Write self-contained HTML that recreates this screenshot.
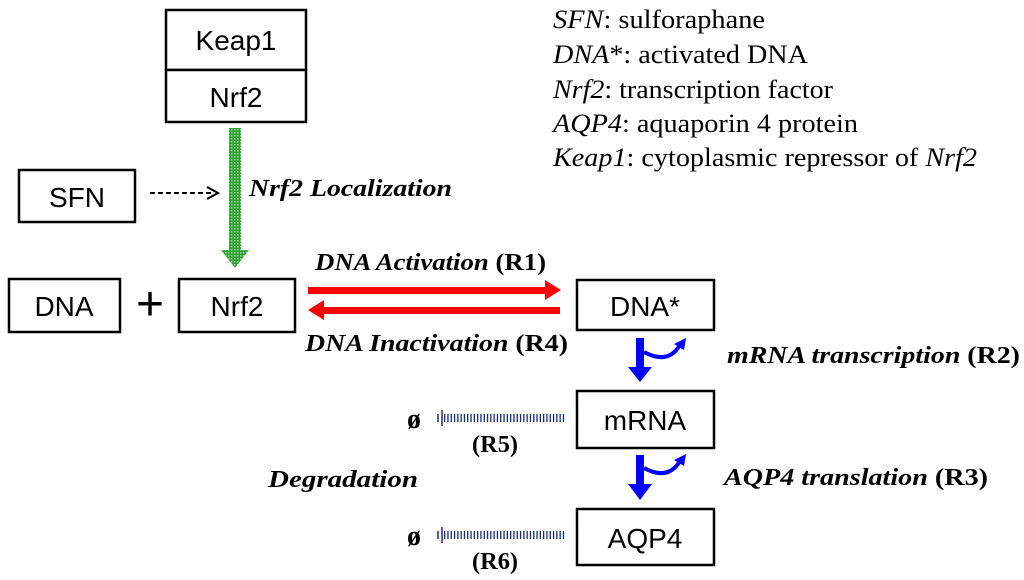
<!DOCTYPE html>
<html><head><style>body{margin:0;background:#fff}svg{display:block}</style></head>
<body>
<svg width="1024" height="580" xmlns="http://www.w3.org/2000/svg">
<defs>
<pattern id="g" width="3" height="3" patternUnits="userSpaceOnUse"><rect width="3" height="3" fill="#2fa02f"/><rect width="1.5" height="1.5" fill="#9fdc9f"/></pattern>
</defs>
<g fill="#fff" stroke="#000" stroke-width="2.5">
<rect x="166" y="10" width="140" height="60"/>
<rect x="166" y="70" width="140" height="52"/>
<rect x="19" y="170" width="116" height="52"/>
<rect x="9" y="279" width="111" height="53"/>
<rect x="179" y="279" width="116" height="53"/>
<rect x="577" y="280" width="137" height="50"/>
<rect x="577" y="391" width="137" height="57"/>
<rect x="577" y="509" width="137" height="56"/>
</g>
<g font-family="Liberation Sans, sans-serif" font-size="28" text-anchor="middle" fill="#000">
<text x="236" y="50">Keap1</text>
<text x="236" y="107">Nrf2</text>
<text x="77" y="207">SFN</text>
<text x="64" y="316">DNA</text>
<text x="237" y="316">Nrf2</text>
<text x="645" y="316">DNA*</text>
<text x="645" y="430">mRNA</text>
<text x="645" y="548">AQP4</text>
<text x="150" y="320" font-size="48">+</text>
</g>
<rect x="229" y="128" width="12" height="124" fill="url(#g)"/>
<polygon points="221,250 249,250 235,268" fill="url(#g)"/>
<line x1="150" y1="193" x2="214" y2="193" stroke="#000" stroke-width="2" stroke-dasharray="5,3"/>
<polyline points="207,187 218,193 207,199" fill="none" stroke="#000" stroke-width="2"/>
<rect x="308" y="287" width="240" height="7" fill="#f00"/>
<polygon points="545,280 561,290 545,300" fill="#f00"/>
<rect x="322" y="307" width="238" height="7" fill="#f00"/>
<polygon points="324,300 308,310 324,320" fill="#f00"/>
<g fill="#00f" stroke="none">
<rect x="636" y="338" width="8" height="32"/><polygon points="628,367 652,367 640,382"/>
<path d="M644 352 Q668 365 680 345" fill="none" stroke="#00f" stroke-width="4"/><polygon points="674,344 686,338 684,350"/>
<rect x="636" y="455" width="8" height="32"/><polygon points="628,484 652,484 640,500"/>
<path d="M644 468 Q668 481 680 461" fill="none" stroke="#00f" stroke-width="4"/><polygon points="674,460 686,454 684,466"/>
</g>
<g stroke="#1a2a7a" stroke-width="1.5">
<line x1="444" y1="418" x2="566" y2="418" stroke-width="8" stroke-dasharray="1.3,2"/>
<line x1="442" y1="410" x2="442" y2="426"/><line x1="438" y1="414" x2="438" y2="422"/>
<line x1="444" y1="535" x2="566" y2="535" stroke-width="8" stroke-dasharray="1.3,2"/>
<line x1="442" y1="527" x2="442" y2="543"/><line x1="438" y1="531" x2="438" y2="539"/>
</g>
<g font-family="Liberation Serif, serif" font-size="24" font-weight="bold" fill="#000" lengthAdjust="spacingAndGlyphs">
<text x="407" y="428" font-size="28">ø</text>
<text x="407" y="545" font-size="28">ø</text>
<text x="472" y="452" textLength="46" lengthAdjust="spacingAndGlyphs">(R5)</text>
<text x="472" y="569" textLength="46" lengthAdjust="spacingAndGlyphs">(R6)</text>
<text x="268" y="487" font-style="italic" textLength="150" lengthAdjust="spacingAndGlyphs">Degradation</text>
<text x="249" y="196" font-style="italic" textLength="203" lengthAdjust="spacingAndGlyphs">Nrf2 Localization</text>
<text x="315" y="270" textLength="231" lengthAdjust="spacingAndGlyphs"><tspan font-style="italic">DNA Activation</tspan> (R1)</text>
<text x="305" y="351" textLength="263" lengthAdjust="spacingAndGlyphs"><tspan font-style="italic">DNA Inactivation</tspan> (R4)</text>
<text x="727" y="363" textLength="293" lengthAdjust="spacingAndGlyphs"><tspan font-style="italic">mRNA transcription</tspan> (R2)</text>
<text x="724" y="485" textLength="264" lengthAdjust="spacingAndGlyphs"><tspan font-style="italic">AQP4 translation</tspan> (R3)</text>
</g>
<g font-family="Liberation Serif, serif" font-size="26" fill="#000">
<text x="553" y="28" textLength="212" lengthAdjust="spacingAndGlyphs"><tspan font-style="italic">SFN</tspan>: sulforaphane</text>
<text x="553" y="63" textLength="255" lengthAdjust="spacingAndGlyphs"><tspan font-style="italic">DNA</tspan>*: activated DNA</text>
<text x="553" y="98" textLength="280" lengthAdjust="spacingAndGlyphs"><tspan font-style="italic">Nrf2</tspan>: transcription factor</text>
<text x="553" y="132" textLength="305" lengthAdjust="spacingAndGlyphs"><tspan font-style="italic">AQP4</tspan>: aquaporin 4 protein</text>
<text x="553" y="166" textLength="424" lengthAdjust="spacingAndGlyphs"><tspan font-style="italic">Keap1</tspan>: cytoplasmic repressor of <tspan font-style="italic">Nrf2</tspan></text>
</g>
</svg>
</body></html>
